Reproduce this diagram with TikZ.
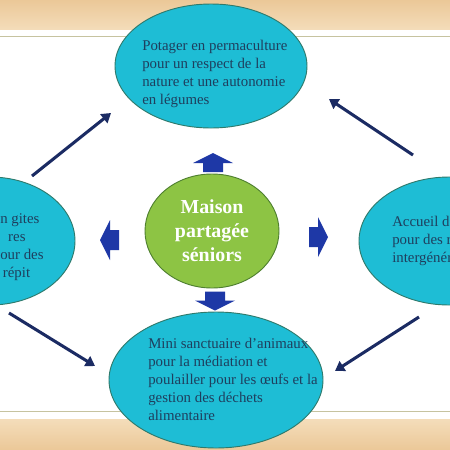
\documentclass[tikz,border=0pt]{standalone}
\usepackage{fontspec}
\setmainfont{Liberation Serif}
\usetikzlibrary{shapes.geometric,arrows.meta}
\definecolor{woodtan}{HTML}{EBC898}
\definecolor{woodlight}{HTML}{F4DDBA}
\definecolor{slideline}{HTML}{C6C3A0}
\definecolor{tealfill}{HTML}{1EBDD5}
\definecolor{tealborder}{HTML}{2F7A6C}
\definecolor{leafgreen}{HTML}{8DC444}
\definecolor{leafborder}{HTML}{4F8030}
\definecolor{inktext}{HTML}{1E3F5E}
\definecolor{blockblue}{HTML}{1E38A6}
\definecolor{navyline}{HTML}{1B2B63}
\newcommand\px{0.0265cm}

\tikzset{
  bubble/.style={ellipse,draw=tealborder,fill=tealfill,line width=0.7pt,inner sep=0pt},
  bubbletext/.style={anchor=north west,align=left,inner sep=0pt,text=inktext,
    font=\fontsize{11.2}{13.6}\selectfont},
  hub/.style={ellipse,draw=leafborder,fill=leafgreen,line width=0.7pt,inner sep=0pt,
    align=center,text=white,font=\fontsize{15}{18}\selectfont\bfseries},
  loop/.style={-{Triangle[length=7pt,width=8.5pt]},navyline,line width=2.3pt},
  pics/blockarr/.style={code={
    \fill[blockblue] (0,-9.5) -- (20,0.5) -- (10,0.5) -- (10,9.5) -- (-10,9.5)
      -- (-10,0.5) -- (-20,0.5) -- cycle;}}
}

\begin{document}
\begin{tikzpicture}[x=\px,y=-\px]
\useasboundingbox (0,0) rectangle (450,450);
\clip (0,0) rectangle (450,450);

% slide and wooden table
\shade[top color=woodtan,bottom color=woodlight] (0,0) rectangle (450,30);
\shade[top color=woodlight,bottom color=woodtan] (0,419) rectangle (450,450);
\fill[white] (0,30) rectangle (450,419);
\draw[slideline,line width=0.6pt] (0,36) -- (450,36);
\draw[slideline,line width=0.6pt] (0,411) -- (450,411);

% outer bubbles
\node[bubble,minimum width=192*\px,minimum height=124*\px] (potager) at (211,66) {};
\node[bubble,minimum width=214*\px,minimum height=136*\px] (sanctuaire) at (216,380) {};
\node[bubble,minimum width=170*\px,minimum height=128*\px] (gites) at (-10,241) {};
\node[bubble,minimum width=180*\px,minimum height=128*\px] (accueil) at (449,241) {};

\node[bubbletext] (potagertxt) at (142,40)
  {Potager en permaculture\\pour un respect de la\\nature et une autonomie\\en légumes};
\node[bubbletext] (sanctuairetxt) at (148,338)
  {Mini sanctuaire d'animaux\\pour la médiation et\\poulailler pour les œufs et la\\gestion des déchets\\alimentaire};
\node[bubbletext] (gitestxt) at (0,213)
  {n gites\\\hspace*{6pt}res\\our des\\\hspace*{2pt}répit};
\node[bubbletext] (accueiltxt) at (392,216)
  {Accueil d'\\pour des r\\intergénér};

% centre
\node[hub,minimum width=134*\px,minimum height=114*\px] (maison) at (212,231)
  {Maison\\partagée\\séniors};

% block arrows round the centre
\pic at (213,162.5) {blockarr};
\pic[rotate=180] at (215,301) {blockarr};
\pic[rotate=90] at (109.5,240) {blockarr};
\pic[rotate=-90] at (318.5,237) {blockarr};

% cycle arrows
\coordinate (lt0) at (32,176);  \coordinate (lt1) at (111,113);
\coordinate (rt0) at (413,155); \coordinate (rt1) at (329,99);
\coordinate (lb0) at (9,313);   \coordinate (lb1) at (95,366);
\coordinate (rb0) at (419,317); \coordinate (rb1) at (335,371);
\draw[loop] (lt0) -- (lt1);
\draw[loop] (rt0) -- (rt1);
\draw[loop] (lb0) -- (lb1);
\draw[loop] (rb0) -- (rb1);

\end{tikzpicture}
\end{document}
